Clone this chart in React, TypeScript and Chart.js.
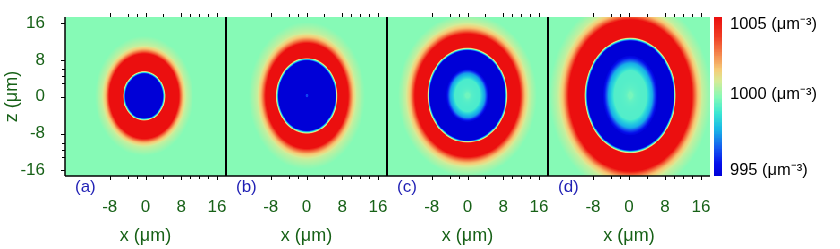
import React, { useEffect, useRef } from "react";
import { Chart, registerables } from "chart.js";

Chart.register(...registerables);

// ---------------- data ----------------
// axis ranges (µm)
const X_MIN = -18;
const X_MAX = 18;
const Z_MIN = -17.2;
const Z_MAX = 17.3;
const xTickValues = [-8, 0, 8, 16];
const zTickValues = [-16, -8, 0, 8, 16];
const xMinorTicks = [-4, -2, 4, 10, 12, 14];
const zMinorTicks = [6, 4.5, 3, -10, -11.5, -13];

const panelLabels = ["(a)", "(b)", "(c)", "(d)"];
// centre of the ring pattern in each panel (µm)
const centerX = [-0.2, 0.2, 0.1, 0.4];
const centerZ = [0.25, 0.3, 0.4, 0.4];

// density profile read along nested ellipses: semi-axis along x, semi-axis along z (µm), density (µm^-3)
const ringRxA = [0.5, 4.0, 4.3, 4.55, 4.85, 7.6, 8.05, 8.6, 9.4, 11];
const ringRzA = [0.55, 4.6, 4.95, 5.2, 5.5, 8.95, 9.5, 10.15, 11.0, 13];
const densityA = [993, 993, 997, 1000.5, 1006, 1006, 1003.6, 1002, 1000.8, 1000];

const ringRxB = [0.25, 1.0, 6.15, 6.45, 6.7, 7.0, 9.0, 9.55, 10.2, 11.1, 13];
const ringRzB = [0.3, 1.2, 7.4, 7.75, 8.05, 8.4, 11.15, 11.8, 12.6, 13.7, 16];
const densityB = [996.5, 993, 993, 997, 1000.5, 1006, 1006, 1003.6, 1002, 1000.8, 1000];

const ringRxC = [0.5, 2.8, 3.9, 4.7, 5.5, 8.25, 8.55, 8.8, 9.1, 11.5, 12.1, 12.8, 13.8, 15.5];
const ringRzC = [0.6, 3.5, 4.8, 5.7, 6.6, 9.5, 9.85, 10.1, 10.45, 13.05, 13.75, 14.55, 15.7, 17.6];
const densityC = [999.7, 999.2, 997.6, 995.3, 993, 993, 997, 1000.5, 1006, 1006, 1003.6, 1002, 1000.8, 1000];

const ringRxD = [0.5, 3.6, 4.9, 6.0, 6.9, 9.4, 9.7, 9.95, 10.25, 13.4, 14.1, 14.9, 16.0, 18];
const ringRzD = [0.7, 5.3, 7.0, 8.6, 9.6, 11.6, 12.0, 12.3, 12.65, 16.1, 16.9, 17.8, 19.1, 21.5];
const densityD = [999.8, 999.3, 997.8, 995.3, 993, 993, 997, 1000.5, 1006, 1006, 1003.6, 1002, 1000.8, 1000];

// colour bar
const DENSITY_MIN = 995;
const DENSITY_MAX = 1005;
const densityLabelValues = [995, 1000, 1005];
const densityLabelAt = [995.35, 1000.1, 1004.5];

// ---------------- styles ----------------
const FONT = "'Liberation Sans', Arial, Helvetica, sans-serif";
const AXIS_GREEN = "#176117";
const LABEL_BLUE = "#1f1fb4";
const GRID_STEP = 0.2;
const colorStopT = [0.0, 0.08, 0.18, 0.3, 0.4, 0.5, 0.6, 0.67, 0.76, 0.88, 1.0];
const colorStopRgb = [
  [0, 0, 215],
  [5, 15, 235],
  [20, 90, 240],
  [25, 185, 230],
  [60, 232, 210],
  [134, 250, 182],
  [215, 235, 150],
  [245, 205, 120],
  [245, 140, 80],
  [240, 60, 35],
  [235, 15, 15],
];

type PanelData = { label: string; cx: number; cz: number; rx: number[]; rz: number[]; rho: number[] };

const panels: PanelData[] = [
  { label: panelLabels[0], cx: centerX[0], cz: centerZ[0], rx: ringRxA, rz: ringRzA, rho: densityA },
  { label: panelLabels[1], cx: centerX[1], cz: centerZ[1], rx: ringRxB, rz: ringRzB, rho: densityB },
  { label: panelLabels[2], cx: centerX[2], cz: centerZ[2], rx: ringRxC, rz: ringRzC, rho: densityC },
  { label: panelLabels[3], cx: centerX[3], cz: centerZ[3], rx: ringRxD, rz: ringRzD, rho: densityD },
];

const colorCache = new Map<number, string>();
function colorFor(v: number): string {
  let t = (v - DENSITY_MIN) / (DENSITY_MAX - DENSITY_MIN);
  t = Math.max(0, Math.min(1, t));
  const key = Math.round(t * 1000);
  const cached = colorCache.get(key);
  if (cached) return cached;
  const tt = key / 1000;
  let k = 0;
  while (k < colorStopT.length - 2 && tt > colorStopT[k + 1]) k++;
  const f = (tt - colorStopT[k]) / (colorStopT[k + 1] - colorStopT[k]);
  const a = colorStopRgb[k];
  const b = colorStopRgb[k + 1];
  const c = `rgb(${Math.round(a[0] + (b[0] - a[0]) * f)},${Math.round(a[1] + (b[1] - a[1]) * f)},${Math.round(
    a[2] + (b[2] - a[2]) * f
  )})`;
  colorCache.set(key, c);
  return c;
}

function densityAt(p: PanelData, x: number, z: number): number {
  const dx = x - p.cx;
  const dz = z - p.cz;
  let prevS = Infinity;
  for (let k = 0; k < p.rx.length; k++) {
    const s = Math.hypot(dx / p.rx[k], dz / p.rz[k]);
    if (s <= 1) {
      if (k === 0) return p.rho[0];
      const t = (prevS - 1) / (prevS - s);
      return p.rho[k - 1] + (p.rho[k] - p.rho[k - 1]) * t;
    }
    prevS = s;
  }
  return p.rho[p.rho.length - 1];
}

function heatmapPlugin(p: PanelData) {
  return {
    id: "heatmap",
    beforeDatasetsDraw(chart: any) {
      const { ctx, chartArea: a } = chart;
      const xs = chart.scales.x;
      const ys = chart.scales.y;
      ctx.save();
      ctx.beginPath();
      ctx.rect(a.left, a.top, a.right - a.left, a.bottom - a.top);
      ctx.clip();
      const nx = Math.ceil((X_MAX - X_MIN) / GRID_STEP);
      const nz = Math.ceil((Z_MAX - Z_MIN) / GRID_STEP);
      for (let i = 0; i < nx; i++) {
        const x0 = X_MIN + i * GRID_STEP;
        const px0 = Math.floor(xs.getPixelForValue(x0));
        const px1 = Math.ceil(xs.getPixelForValue(x0 + GRID_STEP));
        for (let j = 0; j < nz; j++) {
          const z0 = Z_MIN + j * GRID_STEP;
          const py0 = Math.floor(ys.getPixelForValue(z0 + GRID_STEP));
          const py1 = Math.ceil(ys.getPixelForValue(z0));
          ctx.fillStyle = colorFor(densityAt(p, x0 + GRID_STEP / 2, z0 + GRID_STEP / 2));
          ctx.fillRect(px0, py0, px1 - px0, py1 - py0);
        }
      }
      ctx.restore();
    },
  };
}

function framePlugin(p: PanelData, showY: boolean) {
  return {
    id: "frame",
    afterDraw(chart: any) {
      const { ctx, chartArea: a } = chart;
      const xs = chart.scales.x;
      const ys = chart.scales.y;
      ctx.save();
      ctx.strokeStyle = "#000";
      // left and bottom borders
      ctx.lineWidth = showY ? 1.5 : 2;
      ctx.beginPath();
      ctx.moveTo(a.left, a.top);
      ctx.lineTo(a.left, a.bottom);
      ctx.stroke();
      ctx.lineWidth = 1.5;
      ctx.beginPath();
      ctx.moveTo(a.left, a.bottom);
      ctx.lineTo(a.right, a.bottom);
      ctx.stroke();
      // tick marks
      ctx.lineWidth = 1;
      const tick = (v: number, len: number) => {
        const px = Math.round(xs.getPixelForValue(v)) + 0.5;
        ctx.beginPath();
        ctx.moveTo(px, a.top);
        ctx.lineTo(px, a.top - len);
        ctx.moveTo(px, a.bottom);
        ctx.lineTo(px, a.bottom + len);
        ctx.stroke();
      };
      xTickValues.forEach((v) => tick(v, 4));
      xMinorTicks.forEach((v) => tick(v, 3));
      if (showY) {
        const ytick = (v: number, len: number) => {
          const py = Math.round(ys.getPixelForValue(v)) + 0.5;
          ctx.beginPath();
          ctx.moveTo(a.left, py);
          ctx.lineTo(a.left - len, py);
          ctx.stroke();
        };
        zTickValues.forEach((v) => ytick(v, 4));
        zMinorTicks.forEach((v) => ytick(v, 3));
      }
      // panel label
      ctx.fillStyle = LABEL_BLUE;
      ctx.font = `17px ${FONT}`;
      ctx.textAlign = "left";
      ctx.textBaseline = "middle";
      ctx.fillText(p.label, a.left + 10, a.bottom + 11);
      ctx.restore();
    },
  };
}

function panelConfig(p: PanelData, showY: boolean, padLeft: number, padRight: number): any {
  return {
    type: "scatter",
    data: { datasets: [{ data: [], pointRadius: 0 }] },
    options: {
      responsive: false,
      animation: false,
      devicePixelRatio: 1,
      events: [],
      layout: { padding: { left: padLeft, right: padRight, top: 17, bottom: 0 } },
      plugins: { legend: { display: false }, tooltip: { enabled: false } },
      scales: {
        x: {
          type: "linear",
          position: "bottom",
          min: X_MIN,
          max: X_MAX,
          afterBuildTicks: (s: any) => {
            s.ticks = xTickValues.map((v) => ({ value: v }));
          },
          afterFit: (s: any) => {
            s.height = 73;
          },
          grid: { display: false, drawTicks: true, tickLength: 21 },
          border: { display: false },
          ticks: {
            color: AXIS_GREEN,
            font: { family: FONT, size: 17 },
            padding: 0,
            maxRotation: 0,
            autoSkip: false,
            callback: (v: any) => String(v),
          },
          title: {
            display: true,
            text: "x (μm)",
            color: AXIS_GREEN,
            font: { family: FONT, size: 18 },
            padding: { top: 0, bottom: 2 },
          },
        },
        y: {
          type: "linear",
          position: "left",
          display: showY,
          min: Z_MIN,
          max: Z_MAX,
          afterBuildTicks: (s: any) => {
            s.ticks = zTickValues.map((v) => ({ value: v }));
          },
          afterFit: (s: any) => {
            s.width = showY ? 65 : 0;
          },
          grid: { display: false, drawTicks: true, tickLength: 20 },
          border: { display: false },
          ticks: {
            color: AXIS_GREEN,
            font: { family: FONT, size: 17 },
            padding: 0,
            autoSkip: false,
            callback: (v: any) => String(v),
          },
          title: {
            display: true,
            text: "z (μm)",
            color: AXIS_GREEN,
            font: { family: FONT, size: 18 },
            padding: { top: 1, bottom: 0 },
          },
        },
      },
    },
    plugins: [heatmapPlugin(p), framePlugin(p, showY)],
  };
}

const colorbarPlugin = {
  id: "colorbar",
  beforeDatasetsDraw(chart: any) {
    const { ctx, chartArea: a } = chart;
    const ys = chart.scales.y;
    const step = 0.05;
    const n = Math.round((DENSITY_MAX - DENSITY_MIN) / step);
    for (let i = 0; i < n; i++) {
      const v0 = DENSITY_MIN + i * step;
      const py0 = Math.floor(ys.getPixelForValue(v0 + step));
      const py1 = Math.ceil(ys.getPixelForValue(v0));
      ctx.fillStyle = colorFor(v0 + step / 2);
      ctx.fillRect(a.left, py0, a.right - a.left, py1 - py0);
    }
  },
};

function colorbarConfig(): any {
  return {
    type: "scatter",
    data: { datasets: [{ data: [], pointRadius: 0 }] },
    options: {
      responsive: false,
      animation: false,
      devicePixelRatio: 1,
      events: [],
      layout: { padding: { left: 14, right: 0, top: 17, bottom: 73 } },
      plugins: { legend: { display: false }, tooltip: { enabled: false } },
      scales: {
        x: { type: "linear", display: false, min: 0, max: 1 },
        y: {
          type: "linear",
          position: "right",
          min: DENSITY_MIN,
          max: DENSITY_MAX,
          afterBuildTicks: (s: any) => {
            s.ticks = densityLabelAt.map((v) => ({ value: v }));
          },
          afterFit: (s: any) => {
            s.width = 118;
          },
          grid: { display: false, drawTicks: true, tickLength: 8 },
          border: { display: false },
          ticks: {
            color: "#000",
            font: { family: FONT, size: 16.5 },
            padding: 0,
            autoSkip: false,
            callback: (_v: any, i: number) => `${densityLabelValues[i]} (μm⁻³)`,
          },
        },
      },
    },
    plugins: [colorbarPlugin],
  };
}

function ChartCanvas({ left, width, make }: { left: number; width: number; make: () => any }) {
  const ref = useRef<HTMLCanvasElement | null>(null);
  useEffect(() => {
    if (!ref.current) return;
    const chart = new Chart(ref.current, make());
    return () => chart.destroy();
  }, []);
  return (
    <canvas
      ref={ref}
      width={width}
      height={249}
      style={{ position: "absolute", left, top: 0, width, height: 249 }}
    />
  );
}

export default function App() {
  useEffect(() => {
    document.body.style.margin = "0";
  }, []);
  return (
    <div style={{ position: "relative", width: 840, height: 249, background: "#fff", overflow: "hidden" }}>
      <ChartCanvas left={0} width={240} make={() => panelConfig(panels[0], true, 0, 14)} />
      <ChartCanvas left={206} width={201} make={() => panelConfig(panels[1], false, 20, 20)} />
      <ChartCanvas left={367} width={201} make={() => panelConfig(panels[2], false, 20, 20)} />
      <ChartCanvas left={528} width={202} make={() => panelConfig(panels[3], false, 20, 20)} />
      <ChartCanvas left={700} width={140} make={colorbarConfig} />
    </div>
  );
}
